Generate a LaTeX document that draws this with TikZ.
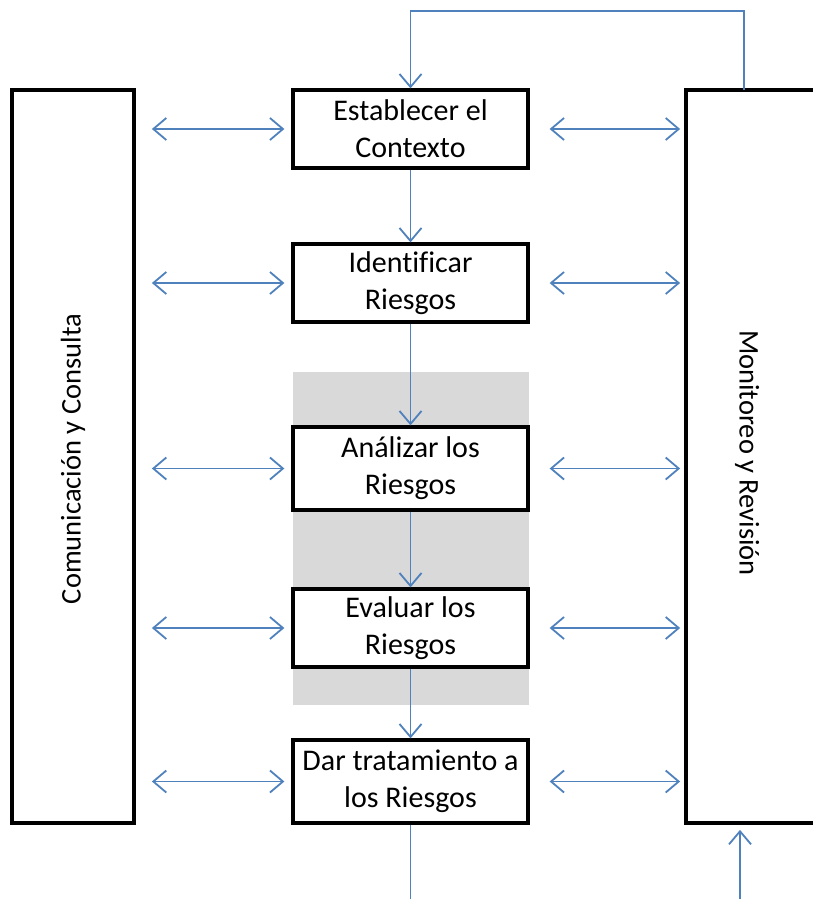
\documentclass[tikz,border=0pt]{standalone}
\usepackage{fontspec}
\setmainfont{Carlito}[Ligatures=NoCommon]
\usetikzlibrary{arrows.meta,calc}
\definecolor{lnblue}{HTML}{4F81BD}
\definecolor{greyband}{HTML}{D9D9D9}
\tikzset{
  stepbox/.style={draw=black,line width=3.3pt,fill=white,minimum width=235pt,minimum height=78pt,inner sep=0pt,align=center,font=\fontsize{30}{37}\selectfont},
  sidebox/.style={draw=black,line width=3.8pt,fill=white,minimum height=733pt,inner sep=0pt},
  sidelabel/.style={font=\fontsize{28.5}{37}\selectfont,inner sep=0pt},
  bl/.style={draw=lnblue,line width=1.8pt},
  arr/.style={bl,-{Straight Barb[length=13pt,width=22pt,line width=1.8pt]}},
  dbl/.style={bl,{Straight Barb[length=13pt,width=22pt,line width=1.8pt]}-{Straight Barb[length=13pt,width=22pt,line width=1.8pt]}}
}
\begin{document}
\begin{tikzpicture}[x=1pt,y=-1pt]
\useasboundingbox (0,0) rectangle (812,899);
\fill[fill=greyband] (293,372) rectangle (529,705);
\node[sidebox,minimum width=122pt] (L) at (73,456.5) {};
\node[sidebox,minimum width=136pt] (R) at (754,456.5) {};
\node[sidelabel,rotate=90] (Lt) at (73,459) {Comunicación y Consulta};
\node[sidelabel,rotate=-90] (Rt) at (747,453) {Monitoreo y Revisión};
\node[stepbox] (c1) at (410.5,129) {Establecer el\\Contexto};
\node[stepbox] (c2) at (410.5,283) {Identificar\\Riesgos};
\node[stepbox,minimum height=83pt] (c3) at (410.5,468.5) {Análizar los\\Riesgos};
\node[stepbox] (c4) at (410.5,628) {Evaluar los\\Riesgos};
\node[stepbox,minimum height=83pt] (c5) at (410.5,781.5) {Dar tratamiento a\\los Riesgos};
% vertical flow
\draw[arr] (c1.south) -- (c2.north);
\draw[arr] (c2.south) -- (c3.north);
\draw[arr] (c3.south) -- (c4.north);
\draw[arr] (c4.south) -- (c5.north);
\coordinate (b1) at (405,905);
\draw[bl] (c5.south) -- (c5.south |- b1);
\coordinate (b2) at (740,905);
\draw[arr] (b2) -- ([yshift=-5pt]R.south -| b2);
% feedback loop
\coordinate (fb) at (744,90);
\draw[arr] (fb) |- ([yshift=77pt]c1.north) -- (c1.north);
% horizontal double arrows
\foreach \c in {c1,c2,c3,c4,c5}{
  \draw[dbl] ([xshift=16pt]L.east |- \c.west) -- ([xshift=-7pt]\c.west);
  \draw[dbl] ([xshift=20pt]\c.east) -- ([xshift=-4pt]R.west |- \c.east);
}
\end{tikzpicture}
\end{document}
